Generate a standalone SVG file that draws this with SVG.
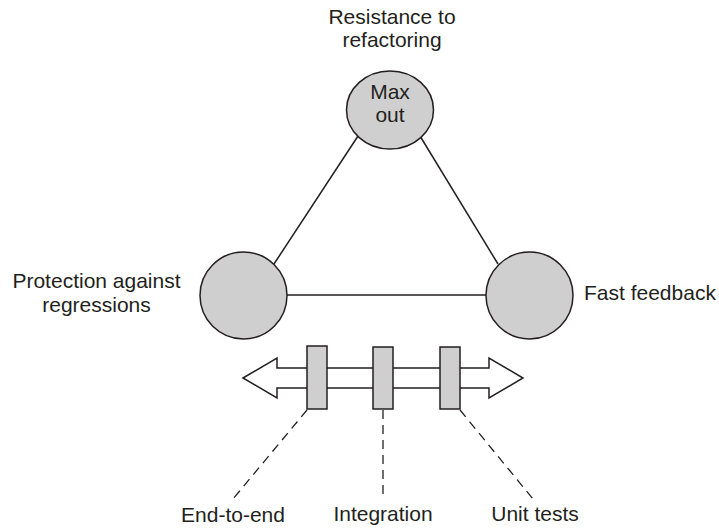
<svg xmlns="http://www.w3.org/2000/svg" width="719" height="529" viewBox="0 0 719 529">
<style>
.t{font-family:"Liberation Sans",Arial,sans-serif;font-size:21px;fill:#231f20;text-anchor:middle}
.node{fill:#cfcfcf;stroke:#231f20;stroke-width:1.5}
.edge{stroke:#231f20;stroke-width:1.5;fill:none}
.dash{stroke:#231f20;stroke-width:1.3;fill:none;stroke-dasharray:9 6}
.arrow{fill:#ffffff;stroke:#231f20;stroke-width:1.5;stroke-linejoin:miter}
</style>
<rect width="719" height="529" fill="#ffffff"/>
<g id="connectors">
<line class="edge" x1="274" y1="264" x2="358" y2="136"/>
<line class="edge" x1="420" y1="136" x2="498" y2="264"/>
<line class="edge" x1="287" y1="295" x2="486" y2="295"/>
<line class="dash" x1="307" y1="410" x2="233" y2="499"/>
<line class="dash" x1="383" y1="410" x2="383" y2="499"/>
<line class="dash" x1="460" y1="410" x2="533" y2="499"/>
</g>
<g id="resistance">
<ellipse class="node" cx="390" cy="110" rx="43.5" ry="39"/>
<text class="t" x="392" y="24">Resistance to</text>
<text class="t" x="392" y="47">refactoring</text>
<text class="t" x="390" y="99">Max</text>
<text class="t" x="390" y="122">out</text>
</g>
<g id="protection">
<circle class="node" cx="243.5" cy="295.5" r="43.5"/>
<text class="t" x="96.5" y="288">Protection against</text>
<text class="t" x="96.5" y="312">regressions</text>
</g>
<g id="fast-feedback">
<circle class="node" cx="529.5" cy="295.5" r="43.5"/>
<text class="t" x="584" y="300" style="text-anchor:start">Fast feedback</text>
</g>
<g id="spectrum-arrow">
<polygon class="arrow" points="243,378 277,358 277,368 489,368 489,358 523,378 489,398 489,388 277,388 277,398"/>
</g>
<g id="end-to-end">
<rect class="node" x="307" y="346" width="20" height="63"/>
<text class="t" x="233" y="522">End-to-end</text>
</g>
<g id="integration">
<rect class="node" x="373" y="347" width="20" height="62"/>
<text class="t" x="383" y="521">Integration</text>
</g>
<g id="unit-tests">
<rect class="node" x="440" y="347" width="20" height="62"/>
<text class="t" x="535" y="521">Unit tests</text>
</g>
</svg>
